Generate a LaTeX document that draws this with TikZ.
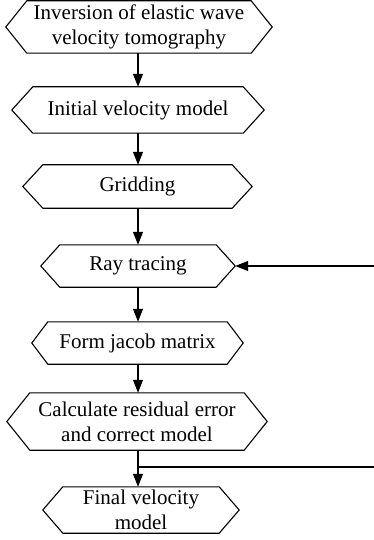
\documentclass[tikz,border=0pt]{standalone}
\usepackage{fontspec}
\setmainfont{Liberation Serif}
\usetikzlibrary{arrows.meta}
\newcommand{\hexof}[2]{%
  \draw[hexline] ([xshift=#2]#1.north west) -- ([xshift=-#2]#1.north east) -- (#1.east)
    -- ([xshift=-#2]#1.south east) -- ([xshift=#2]#1.south west) -- (#1.west) -- cycle;}
\tikzset{
  hexline/.style={line width=1.1pt, line join=miter},
  hexnode/.style={inner sep=0pt, align=center, font=\fontsize{21}{25}\selectfont},
  flow/.style={line width=1.2pt, -{Triangle[length=13pt,width=10pt]}},
  plain/.style={line width=1.2pt}
}
\begin{document}
\begin{tikzpicture}[x=1pt,y=-1pt]
\useasboundingbox (0,0) rectangle (374,540);
\node[hexnode, minimum width=266pt, minimum height=52pt] (n1) at (139,27) {Inversion of elastic wave\\velocity tomography};
\node[hexnode, minimum width=252pt, minimum height=46pt] (n2) at (138,110) {Initial velocity model};
\node[hexnode, minimum width=229pt, minimum height=43pt] (n3) at (137.5,186.5) {Gridding};
\node[hexnode, minimum width=194pt, minimum height=42pt] (n4) at (138,266) {Ray tracing};
\node[hexnode, minimum width=211pt, minimum height=42pt] (n5) at (137.5,343) {Form jacob matrix};
\node[hexnode, minimum width=260pt, minimum height=57pt] (n6) at (137,421.5) {Calculate residual error\\and correct model};
\node[hexnode, minimum width=196pt, minimum height=46pt] (n7) at (141,510) {Final velocity\\model};
\hexof{n1}{21pt}
\hexof{n2}{21pt}
\hexof{n3}{20pt}
\hexof{n4}{19pt}
\hexof{n5}{16pt}
\hexof{n6}{23pt}
\hexof{n7}{20pt}
\coordinate (fbin) at (374,266);
\coordinate (split) at (138,467);
\coordinate (fbout) at (374,467);
\draw[flow] (n1.south -| split) -- (n2.north -| split);
\draw[flow] (n2.south -| split) -- (n3.north -| split);
\draw[flow] (n3.south -| split) -- (n4.north -| split);
\draw[flow] (n4.south -| split) -- (n5.north -| split);
\draw[flow] (n5.south -| split) -- (n6.north -| split);
\draw[flow] (n6.south -| split) -- (n7.north -| split);
\draw[plain] (split) -- (fbout);
\draw[flow] (fbin) -- (n4.east);
\end{tikzpicture}
\end{document}
